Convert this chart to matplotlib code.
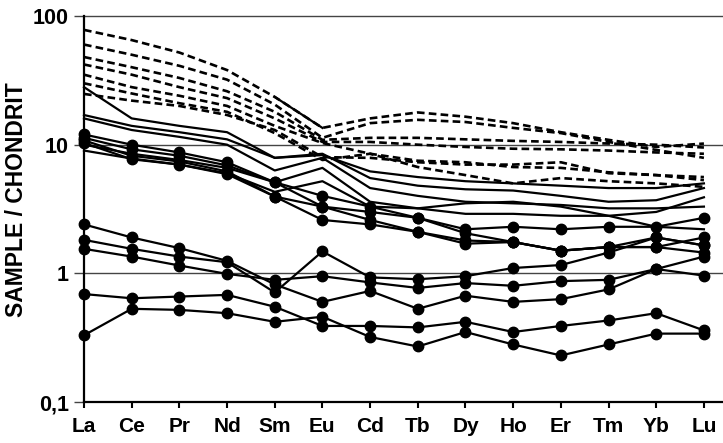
# REE-Verteilungsmuster, chondritnormiert

import matplotlib
matplotlib.use('Agg')
import matplotlib.pyplot as plt
from matplotlib.ticker import FixedLocator, NullLocator

plt.rcParams['font.family'] = ['Liberation Sans', 'DejaVu Sans']
plt.rcParams['font.weight'] = 'bold'

elements = ['La', 'Ce', 'Pr', 'Nd', 'Sm', 'Eu', 'Cd', 'Tb', 'Dy', 'Ho', 'Er', 'Tm', 'Yb', 'Lu']
y_ticks = [0.1, 1, 10, 100]
y_tick_labels = ['0,1', '1', '10', '100']

# gestrichelte Proben
d1 = [78, 65, 52, 38, 23.5, 13.5, 16, 17.8, 16.5, 14.7, 12.5, 10.9, 9.6, 10.2]
d2 = [60, 50, 41, 32, 20.5, 11.3, 14.7, 15.6, 15, 13.5, 12.3, 10.5, 9.1, 7.9]
d3 = [48, 40, 33, 26, 18, 10.9, 11.3, 11.3, 11, 10.7, 10.5, 10.2, 10, 9.5]
d4 = [42, 35, 28, 23, 16, 10.5, 10.5, 10, 9.6, 9.3, 9.2, 9, 8.7, 8.5]
d5 = [35, 28, 24, 20, 14, 10.3, 8.5, 7.5, 7.3, 6.7, 6.6, 6.1, 5.8, 5.3]
d6 = [24.8, 22, 20, 17, 13, 8.0, 7.9, 7.3, 7.0, 7.0, 7.3, 6.0, 5.8, 5.6]
d7 = [30, 25, 21, 18, 12.3, 7.6, 8.5, 6.7, 5.8, 5.0, 5.5, 5.2, 5.0, 4.7]

# durchgezogene Proben ohne Punkte
s1 = [28, 16, 14, 12.5, 7.9, 8.3, 6.2, 5.6, 5.2, 5.0, 4.8, 4.6, 4.6, 5.0]
s2 = [17, 14, 12.5, 11, 7.9, 8.5, 5.5, 4.8, 4.5, 4.4, 4.0, 3.6, 3.7, 4.6]
s3 = [16, 13, 11.5, 10, 6.3, 7.9, 4.6, 4.0, 3.6, 3.5, 3.4, 3.2, 3.2, 3.3]
s4 = [10, 8.5, 7.6, 6.6, 5.1, 6.6, 3.6, 3.2, 2.9, 2.9, 2.8, 2.8, 3.0, 3.9]
s5 = [9.0, 7.8, 7.0, 6.0, 4.3, 5.2, 3.3, 3.2, 3.5, 3.6, 3.3, 2.8, 2.3, 2.2]

# Proben mit Punkten
u1 = [12, 10, 8.7, 7.3, 5.1, 4.0, 3.3, 2.7, 2.2, 2.3, 2.2, 2.3, 2.3, 2.7]
u2 = [11.3, 9.2, 8.2, 6.9, 5.1, 3.3, 3.0, 2.7, 2.05, 1.75, 1.5, 1.6, 1.6, 1.9]
u3 = [10.8, 8.2, 7.4, 6.2, 3.95, 2.6, 2.4, 2.1, 1.8, 1.75, 1.5, 1.6, 1.6, 1.45]
u4 = [10.3, 7.7, 7.0, 5.9, 3.95, 3.3, 2.6, 2.1, 1.7, 1.75, 1.5, 1.6, 1.9, 1.65]
la = [2.4, 1.9, 1.57, 1.25, 0.82, 0.6, 0.73, 0.53, 0.67, 0.6, 0.63, 0.75, 1.08, 1.35]
lb = [1.82, 1.55, 1.35, 1.22, 0.71, 1.48, 0.93, 0.9, 0.95, 1.1, 1.16, 1.45, 1.9, 1.65]
lc = [1.55, 1.35, 1.15, 0.99, 0.89, 0.95, 0.85, 0.77, 0.84, 0.8, 0.87, 0.89, 1.08, 0.96]
ld = [0.69, 0.64, 0.66, 0.68, 0.55, 0.39, 0.39, 0.38, 0.42, 0.35, 0.39, 0.43, 0.49, 0.36]
le = [0.33, 0.53, 0.52, 0.49, 0.42, 0.46, 0.32, 0.27, 0.35, 0.28, 0.23, 0.28, 0.34, 0.34]

dashed = [d1, d2, d3, d4, d5, d6, d7]
solid = [s1, s2, s3, s4, s5]
dotted = [u1, u2, u3, u4, la, lb, lc, ld, le]

fig = plt.figure(figsize=(7.23, 4.43), dpi=100)
ax = fig.add_axes([84 / 723, 41 / 443, 639 / 723, 386 / 443])

x = list(range(len(elements)))

for y in dashed:
    ax.plot(x, y, color='black', lw=1.9, dashes=(2.9, 1.6), clip_on=False)
# Sm-Eu Abschnitt der obersten Probe ist durchgezogen
ax.plot(x[4:6], d1[4:6], color='black', lw=1.6)
for y in solid:
    ax.plot(x, y, color='black', lw=1.6, clip_on=False)
for y in dotted:
    ax.plot(x, y, color='black', lw=1.6, marker='o', ms=7.5, clip_on=False)

ax.set_yscale('log')
ax.set_ylim(0.1, 100)
ax.set_xlim(0, 13.4)

for v in [1, 10, 100]:
    ax.axhline(v, color='#444444', lw=1.0, zorder=0, clip_on=False)

ax.yaxis.set_major_locator(FixedLocator(y_ticks))
ax.yaxis.set_minor_locator(NullLocator())
ax.set_yticklabels(y_tick_labels)
ax.set_xticks(x)
ax.set_xticklabels(elements)

ax.tick_params(axis='y', direction='out', length=7, width=1.0, color='#444444',
               pad=4, labelsize=15.5)
ax.tick_params(axis='x', direction='out', length=4, width=1.5, color='black',
               pad=7, labelsize=15)

for side in ['top', 'right']:
    ax.spines[side].set_visible(False)
ax.spines['left'].set_linewidth(1.6)
ax.spines['bottom'].set_linewidth(1.6)

fig.text(17 / 723, 1 - 200 / 443, 'SAMPLE / CHONDRIT', rotation=90,
         ha='center', va='center', fontsize=16.5, fontweight='bold')

fig.savefig('out.png', dpi=100)
